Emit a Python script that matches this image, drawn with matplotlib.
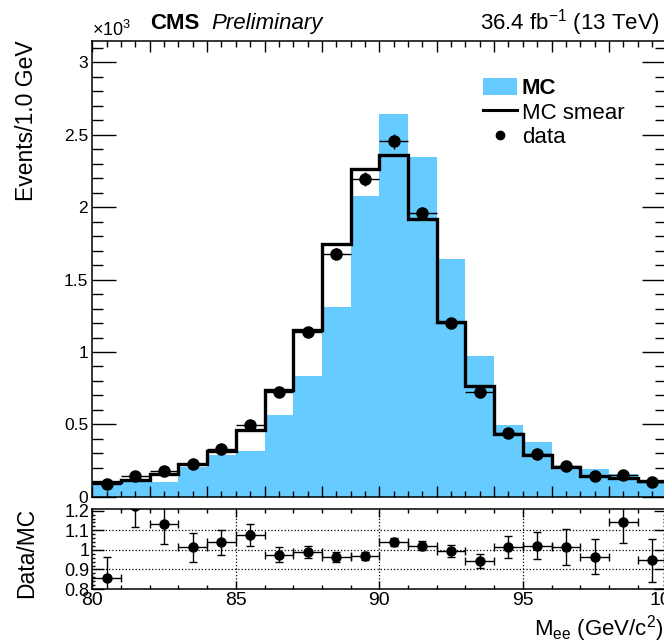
import numpy as np
import matplotlib
matplotlib.use('Agg')
import matplotlib.pyplot as plt
from matplotlib.ticker import MultipleLocator, FuncFormatter
from matplotlib.patches import Patch
from matplotlib.lines import Line2D

plt.rcParams['font.family'] = ['Liberation Sans', 'DejaVu Sans']
plt.rcParams['mathtext.fontset'] = 'custom'
plt.rcParams['mathtext.rm'] = 'Liberation Sans'
plt.rcParams['mathtext.it'] = 'Liberation Sans:italic'

# bin edges 80..100 GeV, 1 GeV wide
edges = np.arange(80, 101, 1)
centers = edges[:-1] + 0.5

# MC (blue fill), MC smear (black step), data points
mc = [82, 100, 104, 204, 289, 319, 567, 835, 1310, 2079,
      2643, 2350, 1641, 973, 496, 377, 210, 190, 158, 116]
mc_smear = [103, 115, 160, 225, 318, 464, 740, 1150, 1745, 2265,
            2362, 1920, 1210, 766, 434, 289, 208, 146, 132, 111]
data = [88, 141, 181, 228, 330, 499, 722, 1137, 1680, 2195,
        2455, 1960, 1202, 722, 440, 295, 211, 141, 151, 105]
data_err = [9, 12, 13, 15, 18, 22, 27, 34, 41, 47,
            50, 44, 35, 27, 21, 17, 15, 12, 12, 10]
ratio_err = [0.11, 0.11, 0.10, 0.075, 0.065, 0.055, 0.04, 0.03, 0.025, 0.022,
             0.02, 0.022, 0.03, 0.035, 0.055, 0.07, 0.09, 0.09, 0.11, 0.11]

ratio = np.array(data) / np.array(mc_smear)

W, H = 664, 643
fig = plt.figure(figsize=(W / 100, H / 100), dpi=100)

left = 92.3 / W
width = (666.3 - 92.3) / W
ax = fig.add_axes([left, 1 - 496.8 / H, width, (496.8 - 40.7) / H])
axr = fig.add_axes([left, 1 - 589 / H, width, (589 - 509.3) / H])

# main panel
ax.stairs(mc, edges, fill=True, color='#66ccff', lw=0)
ax.stairs(mc_smear, edges, color='black', lw=2.4, baseline=None)
ax.errorbar(centers, data, xerr=0.5, yerr=data_err, fmt='o', color='black',
            ms=8, elinewidth=1.0, capsize=0)
ax.set_xlim(80, 100)
ax.set_ylim(0, 3150)
ax.xaxis.set_major_locator(MultipleLocator(2))
ax.xaxis.set_minor_locator(MultipleLocator(0.5))
ax.yaxis.set_major_locator(MultipleLocator(500))
ax.yaxis.set_minor_locator(MultipleLocator(100))
ax.yaxis.set_major_formatter(FuncFormatter(lambda v, p: '%g' % (v / 1000)))
ax.tick_params(axis='both', which='both', direction='in', top=True, right=True,
               labelsize=12.5, width=1, pad=3)
ax.tick_params(axis='y', which='major', length=17)
ax.tick_params(axis='y', which='minor', length=8)
ax.tick_params(axis='x', which='major', length=8)
ax.tick_params(axis='x', which='minor', length=4.3)
ax.tick_params(axis='x', labelbottom=False)
for s in ax.spines.values():
    s.set_linewidth(1.1)

handles = [Patch(facecolor='#66ccff', edgecolor='none'),
           Line2D([], [], color='black', lw=2.2),
           Line2D([], [], marker='o', color='black', ls='none', ms=6)]
leg = ax.legend(handles, ['MC', 'MC smear', 'data'], loc='upper left',
                bbox_to_anchor=(483 / W, 1 - 78 / H), bbox_transform=fig.transFigure,
                frameon=False, fontsize=16, handlelength=1.55, handleheight=0.8,
                handletextpad=0.2, labelspacing=0.14, borderpad=0, borderaxespad=0)
leg.get_texts()[0].set_fontweight('bold')

# ratio panel
axr.errorbar(centers, ratio, xerr=0.5, yerr=ratio_err, fmt='o', color='black',
             ms=6.5, elinewidth=1.0, capsize=3, capthick=1.0)
axr.set_xlim(80, 100)
axr.set_ylim(0.8, 1.207)
axr.xaxis.set_major_locator(MultipleLocator(5))
axr.xaxis.set_minor_locator(MultipleLocator(1))
axr.yaxis.set_major_locator(MultipleLocator(0.1))
axr.yaxis.set_minor_locator(MultipleLocator(0.02))
axr.yaxis.set_major_formatter(FuncFormatter(lambda v, p: '%g' % round(v, 2)))
axr.tick_params(axis='both', which='both', direction='in', top=True, right=True, width=1)
axr.tick_params(axis='y', which='major', length=8.6, pad=2, labelsize=13)
axr.tick_params(axis='y', which='minor', length=2.5)
axr.tick_params(axis='x', which='major', length=6, pad=2, labelsize=14)
axr.tick_params(axis='x', which='minor', length=3)
for v in [85, 90, 95]:
    axr.axvline(v, color='black', ls=':', lw=0.9)
for v in [0.9, 1.0, 1.1]:
    axr.axhline(v, color='black', ls=':', lw=0.9)
for s in axr.spines.values():
    s.set_linewidth(1.1)

# texts
fig.text(92 / W, 1 - 36 / H, r'$\times$10$^{3}$', fontsize=13, ha='left', va='baseline')
fig.text(150 / W, 1 - 29 / H, 'CMS', fontsize=16, fontweight='bold', ha='left', va='baseline')
fig.text(211 / W, 1 - 29 / H, 'Preliminary', fontsize=16, style='italic', ha='left', va='baseline')
fig.text(660 / W, 1 - 29 / H, r'36.4 fb$^{-1}$ (13 TeV)', fontsize=16, ha='right', va='baseline')
fig.text(27 / W, 1 - 40 / H, 'Events/1.0 GeV', fontsize=16.5, rotation=90, ha='center', va='top')
fig.text(27 / W, 1 - 553 / H, 'Data/MC', fontsize=16.5, rotation=90, ha='center', va='center')
fig.text(664 / W, 1 - 636 / H, r'M$_{\mathrm{ee}}$ (GeV/c$^{2}$)', fontsize=16, ha='right', va='baseline')

fig.savefig('out.png', dpi=100)
